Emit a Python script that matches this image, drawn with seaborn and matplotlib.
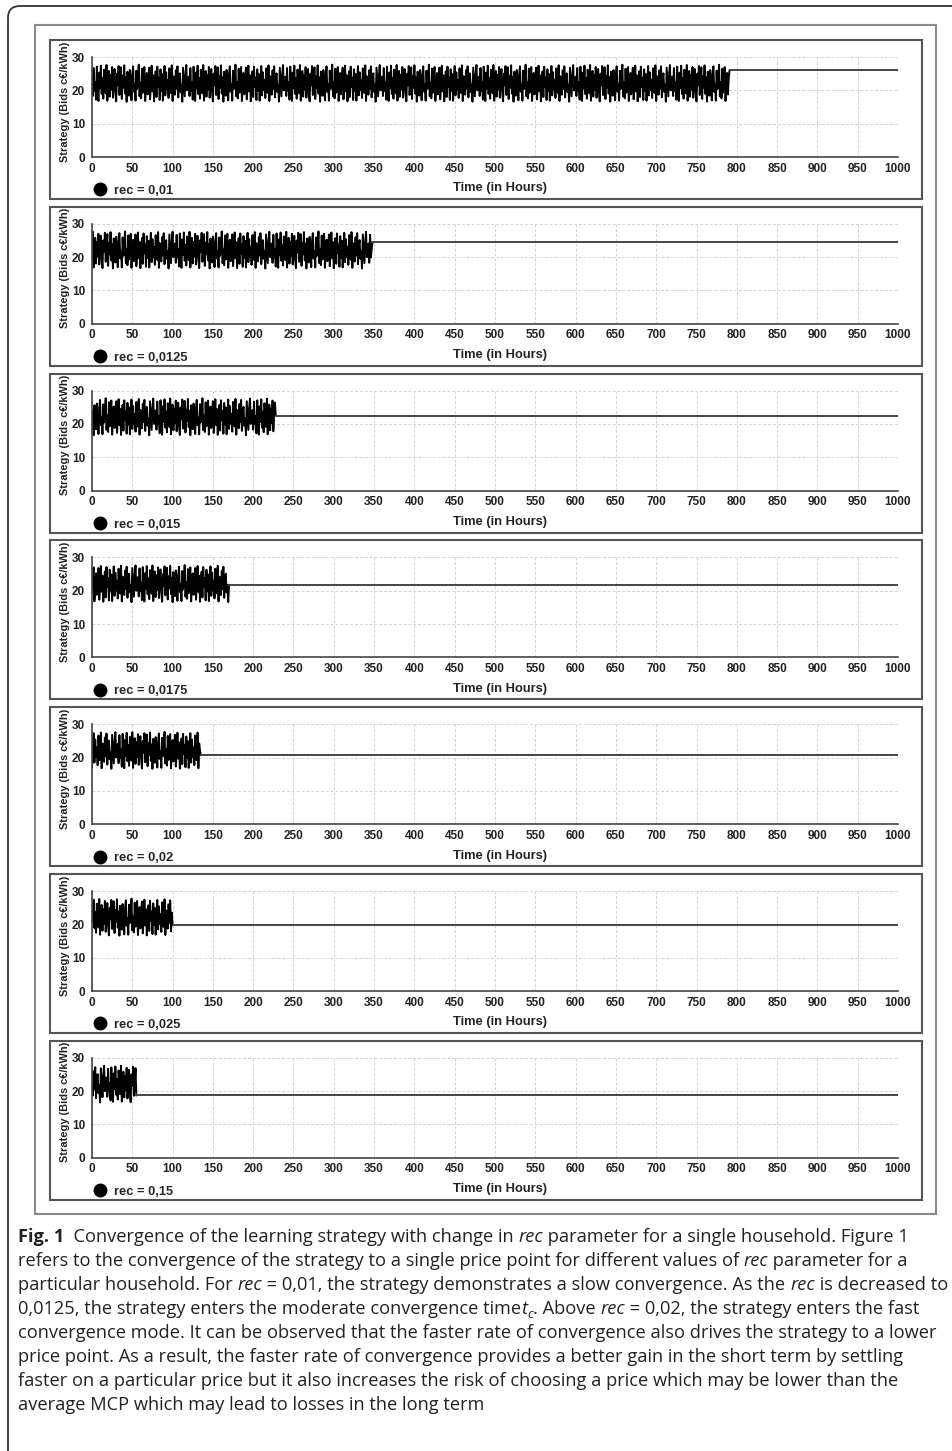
import numpy as np
import pandas as pd
import seaborn as sns
from matplotlib import pyplot as plt
from matplotlib.lines import Line2D
from matplotlib.patches import FancyBboxPatch, Rectangle

# ---- data --------------------------------------------------------------------
REC_LABELS = ["rec = 0,01", "rec = 0,0125", "rec = 0,015", "rec = 0,0175",
              "rec = 0,02", "rec = 0,025", "rec = 0,15"]
CONV_HOURS = [791, 348, 228, 170, 135, 100, 55]        # hour where the bid settles
CONV_BIDS = [26.1, 24.4, 22.5, 21.8, 20.7, 19.7, 18.7]  # settled bid (c€/kWh)
# hand-typed bid samples of the oscillating phase (values between ~16.5 and ~27.7)
BID_PATTERN = [
    24.1, 18.3, 26.7, 19.9, 22.4, 17.2, 27.1, 21.0, 16.8, 25.3,
    20.6, 27.4, 18.9, 23.7, 17.5, 26.2, 21.8, 19.1, 27.6, 16.9,
    22.9, 25.8, 18.1, 24.6, 20.2, 27.0, 17.8, 23.1, 26.4, 19.4,
    16.7, 25.0, 21.5, 27.3, 18.6, 22.0, 26.9, 17.4, 24.3, 20.8,
    27.5, 19.0, 23.9, 16.6, 25.6, 21.2, 18.4, 26.1, 22.7, 17.0,
    24.8, 27.2, 19.6, 21.9, 16.9, 25.9, 20.4, 23.3, 27.7, 18.2,
    22.5, 17.6, 26.5, 19.3, 24.0, 27.0, 16.8, 21.4, 25.2, 18.8,
    23.6, 26.8, 17.3, 20.9, 27.4, 19.7, 24.5, 16.7, 22.2, 25.7,
    18.0, 27.1, 21.1, 23.8, 17.1, 26.3, 19.8, 24.9, 16.9, 22.8,
    27.3, 18.5, 25.4, 20.1, 23.0, 17.7, 26.6, 21.6, 19.2, 27.5,
    16.8, 24.2, 22.1, 18.7, 26.0, 20.5, 27.2, 17.9, 23.5, 25.1,
    19.5, 21.7, 16.6, 26.8, 22.6, 18.2, 24.7, 27.6, 20.0, 23.2,
]
PATTERN_OFFSETS = [0, 17, 41, 63, 88, 9, 102]
X_TICKS = list(range(0, 1001, 50))
Y_TICKS = [0, 10, 20, 30]

CAPTION = [
    [("Fig. 1", "b"), ("  Convergence of the learning strategy with change in ", "n"),
     ("rec", "i"), (" parameter for a single household. Figure 1", "n")],
    [("refers to the convergence of the strategy to a single price point for different values of ", "n"),
     ("rec", "i"), (" parameter for a", "n")],
    [("particular household. For ", "n"), ("rec", "i"),
     (" = 0,01, the strategy demonstrates a slow convergence. As the ", "n"),
     ("rec", "i"), (" is decreased to", "n")],
    [("0,0125, the strategy enters the moderate convergence time", "n"), ("t", "i"),
     ("c", "sub"), (". Above ", "n"), ("rec", "i"),
     (" = 0,02, the strategy enters the fast", "n")],
    [("convergence mode. It can be observed that the faster rate of convergence also drives the strategy to a lower", "n")],
    [("price point. As a result, the faster rate of convergence provides a better gain in the short term by settling", "n")],
    [("faster on a particular price but it also increases the risk of choosing a price which may be lower than the", "n")],
    [("average MCP which may lead to losses in the long term", "n")],
]

# ---- layout ----------------------------------------------------------------
W, H = 953, 1451
sns.set_style("white")
plt.rcParams["font.family"] = ["Liberation Sans", "DejaVu Sans"]

fig = plt.figure(figsize=(W / 100, H / 100), dpi=100)
fig.patch.set_facecolor("white")


def fx(px):
    return px / W


def fy(py):
    return 1 - py / H


# outer frame (rounded top-left corner, runs off the right and bottom edge)
fig.patches.append(FancyBboxPatch((8, -60), 1100, H - 6 + 60,
                                  boxstyle="round,pad=0,rounding_size=12",
                                  transform=None, fill=False, ec="#333333", lw=1.3))
# grey box around all panels
fig.patches.append(Rectangle((35, H - 1214), 936 - 35, 1214 - 25, transform=None,
                             fill=False, ec="#8a8a8a", lw=1.5))

for i, (label, conv, cbid, off) in enumerate(zip(REC_LABELS, CONV_HOURS, CONV_BIDS, PATTERN_OFFSETS)):
    top = 40 + i * 166.8
    fig.patches.append(Rectangle((50, H - (top + 159)), 922 - 50, 159, transform=None,
                                 fill=False, ec="#555555", lw=1.5))

    ax = fig.add_axes([fx(92), fy(top + 117), fx(898) - fx(92), 100 / H])

    hours = np.arange(conv + 1)
    bids = [BID_PATTERN[(off + h) % len(BID_PATTERN)] for h in hours]
    bids[-1] = cbid
    noisy = pd.DataFrame({"hour": hours, "bid": bids})
    settled = pd.DataFrame({"hour": [conv, 1000], "bid": [cbid, cbid]})

    sns.lineplot(data=noisy, x="hour", y="bid", ax=ax, color="black", lw=1.4, estimator=None)
    sns.lineplot(data=settled, x="hour", y="bid", ax=ax, color="#444444", lw=1.4, estimator=None)

    ax.set_xlim(0, 1000)
    ax.set_ylim(0, 30)
    ax.set_xticks(X_TICKS)
    ax.set_yticks(Y_TICKS)
    ax.tick_params(axis="x", length=0, pad=4, labelsize=8.5)
    ax.tick_params(axis="y", length=4, width=1, pad=1, labelsize=8.5, color="#444444")
    for t in ax.get_xticklabels() + ax.get_yticklabels():
        t.set_fontweight("bold")
        t.set_color("#222222")

    ax.grid(True, color="#d2d2d2", lw=0.7, ls=(0, (3, 2)))
    ax.set_axisbelow(True)
    for side in ("top", "right"):
        ax.spines[side].set_visible(False)
    for side in ("left", "bottom"):
        ax.spines[side].set_color("#444444")
        ax.spines[side].set_linewidth(1.2)

    ax.set_xlabel("Time (in Hours)", fontsize=9.3, fontweight="bold", color="#222222")
    ax.xaxis.set_label_coords(0.506, -0.255)
    ax.set_ylabel("Strategy (Bids c€/kWh)", fontsize=7.9, fontweight="bold", color="#222222")
    ax.yaxis.set_label_coords(-0.027, 0.555)

    handle = Line2D([0], [0], marker="o", ls="", color="black", markersize=9)
    ax.legend([handle], [label], loc="center left", bbox_to_anchor=(fx(94), fy(top + 151)),
              bbox_transform=fig.transFigure, frameon=False, handlelength=1,
              handletextpad=0.55, borderpad=0, borderaxespad=0,
              prop={"weight": "bold", "size": 9.3})

# ---- caption -----------------------------------------------------------------
renderer = fig.canvas.get_renderer()
cap_font = "Open Sans"


def draw_caption_line(segments, base, size, keep=True):
    x = 18
    for txt, style in segments:
        kw = dict(family=cap_font, size=size, color="#222222")
        y = base
        if style == "b":
            kw["weight"] = "bold"
        elif style == "i":
            kw["style"] = "italic"
        elif style == "sub":
            kw["style"] = "italic"
            kw["size"] = size * 0.7
            y = base + 4
        t = fig.text(fx(x), fy(y), txt, ha="left", va="baseline", **kw)
        x += t.get_window_extent(renderer).width
        if not keep:
            t.remove()
    return x


widest = max(draw_caption_line(seg, 0, 12, keep=False) - 18 for seg in CAPTION)
cap_size = 12 * 928 / widest

for k, segments in enumerate(CAPTION):
    draw_caption_line(segments, 1242 + 24 * k, cap_size)

fig.savefig("out.png", dpi=100)
